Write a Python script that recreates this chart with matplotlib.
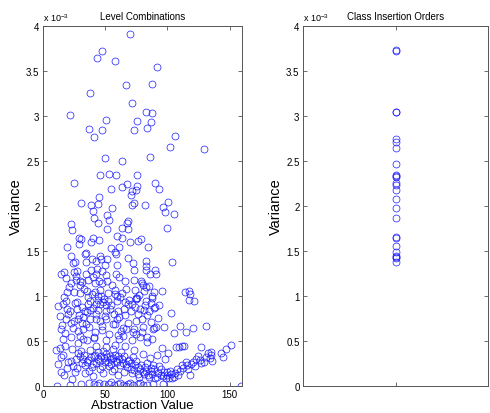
import numpy as np
import matplotlib
matplotlib.use("Agg")
import matplotlib.pyplot as plt
from matplotlib.ticker import FuncFormatter

plt.rcParams['font.family'] = ['Liberation Sans', 'DejaVu Sans']
plt.rcParams['mathtext.default'] = 'regular'

# level combinations: (abstraction value, variance in 1e-3 units)
upper_pts = [
    (69.7, 3.91), (47.2, 3.72), (43.2, 3.64), (57.9, 3.61), (91.6, 3.54), (87.6, 3.36),
    (66.7, 3.34), (37.8, 3.26), (71.5, 3.14), (22.0, 3.01), (82.6, 3.04), (87.9, 3.03),
    (51.0, 2.96), (75.3, 2.95), (86.6, 2.93), (36.7, 2.86), (47.2, 2.84), (73.5, 2.84),
    (83.6, 2.87), (41.0, 2.77), (106.4, 2.78), (102.4, 2.66), (129.4, 2.63), (85.8, 2.55),
    (49.8, 2.53), (63.5, 2.50), (52.8, 2.36), (59.0, 2.35), (45.6, 2.34), (75.3, 2.34),
    (24.9, 2.26), (67.3, 2.24), (90.4, 2.26), (63.5, 2.21), (75.9, 2.22), (55.0, 2.19),
    (93.6, 2.19), (71.5, 2.17), (74.5, 2.18), (44.8, 2.10), (71.1, 2.12), (100.5, 2.05),
    (30.9, 2.03), (44.0, 2.02), (73.2, 2.03), (71.8, 2.01), (38.9, 2.01), (82.0, 2.01),
    (96.8, 1.99), (55.8, 1.98), (40.0, 1.95), (98.1, 1.93), (51.5, 1.90), (105.3, 1.91),
    (41.3, 1.87), (22.8, 1.80), (53.1, 1.84), (68.1, 1.83), (67.3, 1.81), (44.0, 1.81),
    (99.4, 1.76), (63.5, 1.76), (23.1, 1.73), (51.5, 1.74), (68.6, 1.75), (59.5, 1.67),
    (28.9, 1.65), (30.4, 1.63), (63.5, 1.65), (40.0, 1.64), (45.3, 1.62), (79.1, 1.63),
    (76.4, 1.61), (70.0, 1.60), (38.4, 1.60), (29.2, 1.58), (19.3, 1.55), (84.7, 1.54),
    (61.4, 1.54), (54.7, 1.53), (34.6, 1.48), (57.6, 1.49), (58.4, 1.47), (33.8, 1.47),
    (45.8, 1.44), (68.0, 1.42), (22.3, 1.44), (39.2, 1.41), (47.0, 1.41), (51.8, 1.41),
    (82.6, 1.39), (103.6, 1.38), (26.0, 1.38), (42.4, 1.39), (34.3, 1.38), (24.1, 1.37),
    (72.0, 1.37), (59.3, 1.35), (49.6, 1.34), (83.1, 1.33),
]

mid_pts = [
    (14.2, 1.24), (16.6, 1.27), (24.6, 1.27), (27.3, 1.28), (34.3, 1.24), (38.8, 1.29),
    (42.9, 1.25), (43.4, 1.30), (47.7, 1.28), (50.9, 1.23), (59.0, 1.24), (61.1, 1.21),
    (73.4, 1.29), (83.1, 1.29), (86.3, 1.24), (90.4, 1.29), (91.2, 1.24), (26.2, 1.18),
    (22.2, 1.15), (31.4, 1.16), (30.0, 1.17), (36.5, 1.18), (40.2, 1.21), (45.3, 1.17),
    (51.5, 1.17), (41.8, 1.14), (47.7, 1.15), (65.7, 1.17), (72.9, 1.18), (78.8, 1.17),
    (79.9, 1.14), (82.5, 1.10), (19.3, 1.05), (16.9, 0.99), (24.6, 1.04), (29.5, 1.03),
    (35.4, 1.06), (45.6, 1.07), (44.5, 1.00), (52.6, 1.03), (57.6, 1.07), (66.8, 1.08),
    (59.3, 1.00), (63.2, 1.03), (75.6, 0.98), (74.5, 0.97), (87.4, 1.00), (95.7, 1.06),
    (114.5, 1.04), (117.5, 1.06), (118.5, 1.02), (121.4, 0.94), (81.5, 1.06), (80.1, 1.12),
    (89.5, 1.05), (12.3, 0.89), (16.1, 0.91), (18.8, 0.95), (19.6, 0.86), (22.0, 0.83),
    (25.5, 0.92), (27.6, 0.86), (28.9, 0.79), (31.4, 0.88), (33.5, 0.83), (35.9, 0.91),
    (38.1, 0.95), (40.2, 0.87), (42.9, 0.91), (44.5, 0.84), (45.8, 0.91), (48.3, 0.93),
    (50.4, 0.90), (50.9, 0.83), (54.7, 0.90), (59.5, 0.95), (60.0, 0.83), (64.9, 0.86),
    (68.1, 0.91), (71.9, 0.91), (74.0, 0.88), (75.1, 0.98), (78.3, 0.86), (82.0, 0.90),
    (83.1, 0.95), (87.1, 0.92), (89.0, 0.87), (90.1, 0.88), (85.3, 0.83), (13.3, 0.78),
    (18.8, 0.74), (22.2, 0.70), (24.6, 0.72), (28.4, 0.75), (31.1, 0.70), (34.8, 0.69),
    (37.5, 0.75), (42.4, 0.74), (45.6, 0.72), (47.7, 0.62), (50.4, 0.75), (56.3, 0.69),
    (59.8, 0.75), (64.4, 0.65), (67.0, 0.63), (72.9, 0.63), (75.1, 0.72), (79.9, 0.74),
    (80.4, 0.66), (83.6, 0.79), (88.5, 0.63), (91.2, 0.66), (89.0, 0.64), (109.9, 0.67),
    (131.3, 0.67), (115.3, 0.60), (105.3, 0.59), (15.4, 0.68), (14.7, 0.63), (17.6, 0.59),
    (22.2, 0.55), (32.4, 0.52), (35.6, 0.51), (41.0, 0.54), (60.3, 0.57), (64.4, 0.56),
    (71.9, 0.51), (77.8, 0.55), (83.6, 0.49),
    (18.5, 1.20), (21.0, 1.10), (26.8, 1.22), (29.9, 1.12), (33.0, 1.08), (36.0, 0.99),
    (39.5, 1.02), (41.5, 1.05), (44.0, 0.96), (46.5, 1.00), (48.9, 0.97), (52.0, 0.95),
    (55.5, 1.12), (57.9, 1.02), (62.3, 0.99), (65.8, 0.93), (69.5, 0.96), (73.8, 1.07),
    (77.0, 1.01), (85.0, 1.11), (88.0, 0.98), (93.0, 0.90), (20.4, 0.80), (27.0, 0.93),
    (31.8, 0.77), (35.2, 0.82), (38.0, 0.85), (43.0, 0.80), (49.5, 0.78), (53.5, 0.86),
    (56.8, 0.80), (60.8, 0.77), (66.0, 0.79), (71.0, 0.83), (76.5, 0.80), (81.0, 0.84),
    (86.5, 0.71), (92.5, 0.76), (24.0, 0.64), (28.0, 0.61), (32.5, 0.63), (37.0, 0.66),
    (42.0, 0.60), (47.5, 0.67), (53.0, 0.58), (58.0, 0.69), (63.0, 0.61), (68.5, 0.70),
    (74.5, 0.58), (79.5, 0.60), (84.0, 0.55), (16.0, 0.52), (30.0, 0.56), (40.8, 0.53),
    (51.0, 0.51), (61.5, 0.52), (72.2, 0.60), (87.5, 0.52), (97.5, 0.66), (103.0, 0.81),
    (117.0, 0.96), (121.0, 0.64),
]

low_pts = [
    (10.7, 0.40), (14.2, 0.32), (12.1, 0.25), (14.7, 0.16), (16.9, 0.12), (20.1, 0.27),
    (22.2, 0.28), (24.1, 0.22), (25.5, 0.16), (28.1, 0.37), (29.5, 0.33), (30.8, 0.39),
    (32.4, 0.30), (33.5, 0.23), (35.1, 0.27), (36.7, 0.17), (38.8, 0.32), (40.2, 0.24),
    (42.1, 0.35), (44.2, 0.30), (45.8, 0.19), (46.9, 0.33), (48.5, 0.39), (50.1, 0.27),
    (51.7, 0.32), (52.8, 0.22), (54.4, 0.30), (56.0, 0.41), (57.1, 0.19), (58.7, 0.28),
    (60.3, 0.33), (61.9, 0.23), (63.5, 0.30), (65.2, 0.16), (66.8, 0.24), (68.4, 0.28),
    (70.6, 0.19), (72.4, 0.32), (74.3, 0.23), (76.0, 0.13), (78.1, 0.19), (80.2, 0.16),
    (82.3, 0.21), (84.5, 0.12), (86.6, 0.17), (88.8, 0.23), (90.4, 0.09), (92.6, 0.14),
    (94.7, 0.19), (96.3, 0.11), (98.0, 0.30), (99.3, 0.16), (101.1, 0.09), (100.6, 0.37),
    (103.3, 0.13), (105.4, 0.10), (107.6, 0.19), (109.2, 0.43), (111.4, 0.23), (113.5, 0.45),
    (114.6, 0.27), (116.7, 0.19), (118.3, 0.12), (120.5, 0.27), (123.1, 0.30), (124.8, 0.33),
    (127.4, 0.26), (127.3, 0.43), (131.2, 0.32), (132.8, 0.37), (136.0, 0.28), (134.8, 0.38),
    (135.4, 0.34), (143.4, 0.37), (144.7, 0.32), (146.9, 0.41), (151.4, 0.46), (111.5, 0.45),
    (107.2, 0.43),
    (18.0, 0.45), (23.5, 0.41), (26.5, 0.30), (27.5, 0.20), (31.0, 0.26), (33.0, 0.35),
    (34.0, 0.14), (36.5, 0.29), (37.5, 0.40), (39.0, 0.21), (41.0, 0.33), (43.0, 0.26),
    (44.5, 0.38), (46.0, 0.28), (47.5, 0.22), (49.0, 0.31), (50.5, 0.36), (52.0, 0.27),
    (53.5, 0.33), (55.0, 0.25), (56.5, 0.31), (58.0, 0.35), (59.5, 0.27), (61.0, 0.30),
    (62.5, 0.38), (64.0, 0.26), (65.5, 0.33), (67.5, 0.21), (69.0, 0.29), (70.5, 0.26),
    (71.5, 0.14), (73.0, 0.18), (75.0, 0.28), (76.5, 0.21), (77.5, 0.10), (79.0, 0.23),
    (81.0, 0.13), (82.5, 0.17), (83.5, 0.26), (85.5, 0.10), (87.0, 0.20), (88.0, 0.13),
    (89.5, 0.19), (91.5, 0.10), (93.5, 0.22), (95.0, 0.12), (97.0, 0.16), (98.5, 0.09),
    (100.0, 0.12), (102.0, 0.17), (104.0, 0.09), (106.0, 0.15), (108.5, 0.12), (110.5, 0.17),
    (112.5, 0.20), (116.0, 0.23), (119.0, 0.25), (122.0, 0.22), (126.0, 0.29), (129.5, 0.27),
    (134.0, 0.31), (92.0, 0.35), (95.5, 0.42), (86.0, 0.31), (80.5, 0.36), (42.5, 0.45),
    (28.5, 0.48), (16.0, 0.35), (19.5, 0.20), (13.5, 0.42), (23.0, 0.08), (60.0, 0.12),
    (55.5, 0.17), (48.0, 0.15), (40.0, 0.11), (73.5, 0.40), (66.0, 0.44), (57.5, 0.46),
    (51.0, 0.43),
    (11.2, 0.00), (21.9, 0.01), (30.8, 0.02), (37.3, 0.03), (41.2, 0.02), (45.0, 0.03),
    (48.9, 0.02), (52.9, 0.02), (56.9, 0.01), (60.7, 0.02), (64.6, 0.01), (68.4, 0.02),
    (72.3, 0.01), (76.2, 0.02), (80.0, 0.01), (84.0, 0.01), (88.4, 0.02), (96.5, 0.02),
    (159.5, 0.00), (43.5, 0.01), (54.5, 0.04), (62.0, 0.03), (70.0, 0.03), (78.0, 0.03),
    (66.5, 0.00),
]

# class insertion orders (variance in 1e-3 units), all at x = 1
order_var = [3.73, 3.72, 3.05, 3.04, 2.74, 2.71, 2.65, 2.47, 2.35, 2.33, 2.32,
             2.26, 2.23, 2.18, 2.08, 1.98, 1.87, 1.66, 1.65, 1.56, 1.49,
             1.44, 1.43, 1.42, 1.375]

y_ticks = [0, 0.5, 1, 1.5, 2, 2.5, 3, 3.5, 4]

lvl = np.array(upper_pts + mid_pts + low_pts)

fig = plt.figure(figsize=(4.9, 4.14), dpi=100)
ax1 = fig.add_axes([43/490, 27/414, 199/490, 360/414])
ax2 = fig.add_axes([303/490, 27/414, 185/490, 360/414])

mk = dict(linestyle='none', marker='o', markersize=5.0, markerfacecolor='none',
          markeredgecolor='#1a1aff', markeredgewidth=0.5)

ax1.plot(lvl[:, 0], lvl[:, 1], **mk)
ax1.set_xlim(0, 160)
ax1.set_xticks([0, 50, 100, 150])
ax1.set_title('Level Combinations', fontsize=7, pad=5)
ax1.set_xlabel('Abstraction Value', fontsize=9.5, labelpad=0)
ax1.set_ylabel('Variance', fontsize=10.5, labelpad=2)

ax2.plot(np.ones(len(order_var)), order_var, **mk)
ax2.set_xlim(0, 2)
ax2.set_xticks([1])
ax2.set_xticklabels([''])
ax2.set_title('Class Insertion Orders', fontsize=7, pad=5)
ax2.set_ylabel('Variance', fontsize=10.5, labelpad=2)

for ax in (ax1, ax2):
    ax.set_ylim(0, 4)
    ax.set_yticks(y_ticks)
    ax.yaxis.set_major_formatter(FuncFormatter(lambda v, p: '%g' % v))
    ax.tick_params(direction='in', top=True, right=True, labelsize=7,
                   length=3, width=0.6, color='#555555', pad=2.5)
    for s in ax.spines.values():
        s.set_color('#555555')
        s.set_linewidth(0.7)
    ax.text(0, 1.008, r'x 10$^{-3}$', transform=ax.transAxes, fontsize=6.5,
            ha='left', va='bottom')

fig.savefig('out.png', dpi=100)
